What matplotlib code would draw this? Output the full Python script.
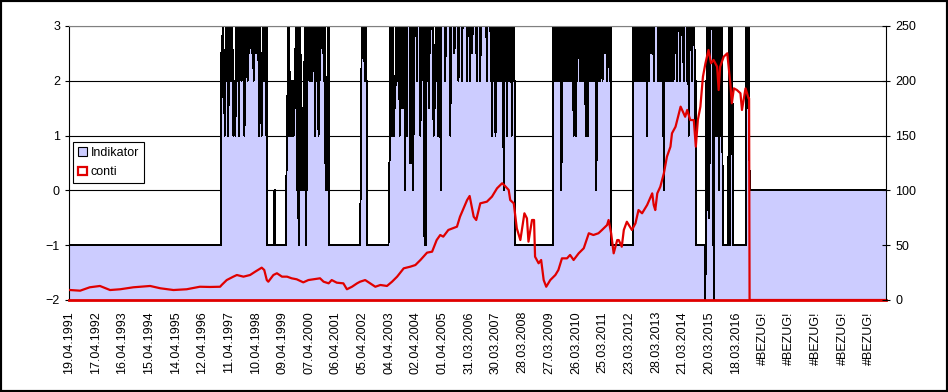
import numpy as np
import matplotlib
matplotlib.use("Agg")
import matplotlib.pyplot as plt
from matplotlib.patches import Patch, Rectangle

plt.rcParams['font.family'] = ['Liberation Sans', 'DejaVu Sans']

# x axis labels (one every year of weekly rows)
date_labels = ['19.04.1991', '17.04.1992', '16.04.1993', '15.04.1994', '14.04.1995',
               '12.04.1996', '11.04.1997', '10.04.1998', '09.04.1999', '07.04.2000',
               '06.04.2001', '05.04.2002', '04.04.2003', '02.04.2004', '01.04.2005',
               '31.03.2006', '30.03.2007', '28.03.2008', '27.03.2009', '26.03.2010',
               '25.03.2011', '23.03.2012', '28.03.2013', '21.03.2014', '20.03.2015',
               '18.03.2016', '#BEZUG!', '#BEZUG!', '#BEZUG!', '#BEZUG!', '#BEZUG!']

n_rows = 1612

# Indikator: level runs (start row, level)
seg_start = [0, 300, 391, 429, 513, 575, 588, 631, 880, 955, 1069, 1113, 1237, 1256, 1289, 1301, 1309, 1335, 1342]
seg_level = [-1, 3, -1, 3, -1, 3, -1, 3, -1, 3, -1, 3, -1, 3, -1, 3, -1, 3, 0]

# Indikator: single rows with another level inside the runs
ind_at_25 = [300, 301, 302, 331, 348, 355, 360, 368, 371, 476, 490, 500, 578, 580, 676, 696, 712,
             760, 795, 1005, 1057, 1148, 1196]
ind_at_2 = [304, 306, 308, 310, 312, 315, 317, 319, 321, 323, 325, 326, 327, 329, 333, 340, 344,
            352, 364, 374, 376, 378, 381, 383, 386, 388,
            431, 435, 437, 439, 441, 444, 446, 448, 457, 464, 470, 474, 477, 480, 487, 494, 503,
            505, 511, 583, 585,
            634, 636, 638, 640, 642, 644, 646, 648, 650, 655, 657, 660, 662, 686, 699, 705, 708,
            718, 720, 722, 724, 726, 730, 732, 742, 768, 775, 785, 791, 804, 811, 824, 832, 836,
            838, 843, 846, 848, 850, 852, 860, 862, 866, 868, 870, 875, 877,
            958, 962, 966, 975, 977, 979, 981, 983, 985, 987, 989, 991, 993, 997, 999, 1002, 1007,
            1012, 1014, 1016, 1018, 1021, 1025, 1027, 1029, 1031, 1033, 1035, 1037, 1039, 1043,
            1045, 1048, 1052, 1061, 1066,
            1115, 1117, 1119, 1121, 1123, 1125, 1127, 1129, 1131, 1133, 1135, 1137, 1139, 1143,
            1153, 1162, 1164, 1166, 1168, 1175, 1177, 1179, 1181, 1183, 1185, 1188, 1190, 1192,
            1199, 1205, 1212, 1219, 1228, 1234, 1236,
            1256, 1261, 1278, 1284, 1302, 1306, 1336, 1340]
ind_at_15 = [305, 379, 445, 458, 461, 587, 643, 656, 658, 710, 721, 1338]
ind_at_1 = [307, 314, 324, 328, 335, 346, 375, 380, 389, 433, 436, 438, 440, 442, 443, 485, 492,
            637, 641, 652, 666, 693, 719, 728, 752, 834, 841, 864, 873, 879, 995, 1000, 1019,
            1023, 1140, 1171, 1222, 1235, 1258, 1276, 1280, 1286]
ind_at_05 = [429, 430, 631, 632, 673, 674, 1264]
ind_at_0 = [405, 406, 450, 451, 452, 455, 459, 460, 462, 463, 469, 506, 507, 508, 509, 575, 576,
            663, 679, 733, 857, 971, 1040, 1173, 1282]
ind_at_m05 = [1257, 1262]
ind_at_m1 = [453, 467, 701, 702, 703, 1270, 1304]
ind_at_m2 = [1255, 1272]

# conti (right axis)
conti_row = [2, 22, 41, 61, 81, 101, 127, 160, 180, 206, 232, 258, 278, 298, 301, 311, 324, 331,
             344, 357, 367, 380, 385, 390, 393, 403, 410, 420, 430, 439, 449, 462, 472, 482, 495,
             502, 512, 518, 528, 541, 548, 558, 568, 574, 584, 594, 604, 614, 627, 637, 647, 660,
             673, 683, 693, 706, 716, 725, 732, 738, 748, 765, 771, 785, 790, 798, 803, 811, 824,
             834, 844, 854, 858, 867, 870, 877, 883, 890, 893, 898, 903, 906, 913, 917, 919, 926,
             931, 936, 941, 949, 959, 965, 972, 982, 988, 995, 1005, 1015, 1025, 1034, 1044, 1051,
             1061, 1064, 1069, 1074, 1081, 1084, 1090, 1094, 1100, 1110, 1117, 1123, 1130, 1140,
             1150, 1153, 1156, 1160, 1166, 1173, 1179, 1186, 1189, 1196, 1206, 1212, 1215, 1219,
             1225, 1232, 1236, 1240, 1245, 1250, 1255, 1261, 1266, 1271, 1278, 1281, 1284, 1291,
             1298, 1304, 1307, 1311, 1317, 1324, 1327, 1334, 1340, 1341, 1342, 1611]
conti_val = [9.1, 8.5, 11.6, 12.8, 9.1, 9.8, 11.6, 12.8, 10.7, 9.1, 9.8, 12.1, 11.9, 12.1, 13.7,
             18.2, 21.3, 22.8, 21.3, 22.8, 25.8, 29.5, 27.4, 18.2, 16.7, 22.8, 24.4, 21.3, 21.3,
             19.8, 18.9, 16.1, 18.2, 18.9, 19.8, 16.7, 15.2, 18.2, 15.8, 15.2, 9.8, 12.1, 15.2,
             16.7, 18.2, 15.2, 12.1, 13.7, 12.8, 16.7, 21.3, 28.9, 30.4, 31.9, 36.5, 43.2, 44.1,
             54.7, 59.3, 57.8, 63.9, 66.9, 76.0, 91.2, 94.9, 76.0, 73.0, 88.2, 89.7, 94.3, 101.9,
             106.5, 104.9, 100.4, 91.2, 88.2, 65.4, 54.7, 63.9, 79.1, 74.5, 53.2, 73.0, 73.0, 39.5,
             33.5, 36.5, 18.2, 12.1, 18.2, 22.8, 27.4, 38.0, 38.0, 41.1, 36.5, 42.6, 47.2, 60.9,
             59.3, 60.9, 63.9, 68.4, 73.0, 60.9, 42.6, 54.7, 54.7, 48.6, 63.9, 71.4, 63.9, 70.0,
             82.1, 79.1, 86.7, 97.3, 86.7, 82.1, 97.3, 103.4, 115.6, 130.7, 139.9, 152.1, 158.1,
             176.4, 170.3, 167.2, 173.4, 164.2, 164.2, 139.9, 164.2, 176.4, 203.7, 216.0, 228.1,
             216.0, 219.0, 212.9, 191.6, 212.9, 222.0, 225.1, 197.7, 179.5, 193.1, 191.6, 188.6,
             173.4, 193.1, 184.0, 184.0, 0, 0]

# build weekly indicator series
ind = np.zeros(n_rows)
bounds = seg_start + [n_rows]
for i, lvl in enumerate(seg_level):
    ind[bounds[i]:bounds[i + 1]] = lvl
for rows, lvl in [(ind_at_25, 2.5), (ind_at_2, 2), (ind_at_15, 1.5), (ind_at_1, 1),
                  (ind_at_05, 0.5), (ind_at_0, 0), (ind_at_m05, -0.5), (ind_at_m1, -1),
                  (ind_at_m2, -2)]:
    ind[rows] = lvl
x = np.arange(n_rows)

fig = plt.figure(figsize=(9.48, 3.92), dpi=100)
ax = fig.add_axes([69 / 948, 1 - 300 / 392, 817 / 948, 274 / 392])

ax.fill_between(x, -2, ind, facecolor='#CCCCFF', lw=0, zorder=1, antialiased=False)
ax.plot(x, ind, color='black', lw=0.7, zorder=2, antialiased=False)

ax.set_xlim(0, n_rows - 1)
ax.set_ylim(-2, 3)
ax.set_yticks([-2, -1, 0, 1, 2, 3])
ax.set_axisbelow(True)
ax.yaxis.grid(True, color='black', lw=0.8)
ax.set_xticks(np.arange(len(date_labels)) * 52.6)
ax.set_xticklabels(date_labels, rotation=90)
ax.tick_params(axis='x', length=0, pad=8, labelsize=9)
ax.tick_params(axis='y', direction='out', length=3, width=0.8, pad=3.5, labelsize=9)
ax.spines['top'].set_color('#808080')
ax.spines['top'].set_linewidth(0.8)
ax.spines['left'].set_linewidth(0.8)
ax.spines['right'].set_visible(False)
ax.spines['bottom'].set_color('#E00000')
ax.spines['bottom'].set_linewidth(2)

ax2 = ax.twinx()
ax2.plot(conti_row, conti_val, color='#E00000', lw=1.6, zorder=3)
ax2.set_ylim(0, 250)
ax2.set_yticks([0, 50, 100, 150, 200, 250])
ax2.tick_params(axis='y', direction='inout', length=6, width=0.8, pad=3.5, labelsize=9)
for s in ['top', 'left', 'bottom']:
    ax2.spines[s].set_visible(False)
ax2.spines['right'].set_linewidth(0.8)

handles = [Patch(facecolor='#CCCCFF', edgecolor='black', lw=0.8, label='Indikator'),
           Patch(facecolor='white', edgecolor='#E00000', lw=1.6, label='conti')]
leg = ax2.legend(handles=handles, loc='upper left', bbox_to_anchor=(0.005, 0.577),
                 frameon=True, fancybox=False, edgecolor='black', framealpha=1, fontsize=9,
                 handlelength=0.7, handleheight=0.7, handletextpad=0.3, borderpad=0.4,
                 labelspacing=0.6, borderaxespad=0)
leg.get_frame().set_linewidth(0.8)

fig.patches.append(Rectangle((0, 0), 1, 1, transform=fig.transFigure, fill=False,
                             edgecolor='black', lw=3))

fig.savefig('out.png', dpi=100)
